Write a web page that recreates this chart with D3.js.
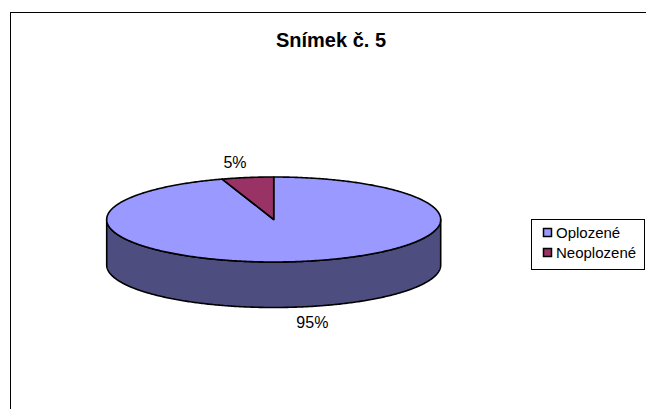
<!DOCTYPE html>
<html><head><meta charset="utf-8">
<script src="https://cdn.jsdelivr.net/npm/d3@7"></script>
<style>body{margin:0;background:#fff}svg{display:block;font-family:"Liberation Sans",Arial,sans-serif}</style>
</head><body>
<svg id="c" width="646" height="409"></svg>
<script>
const title = "Snímek č. 5";
const categories = ["Oplozené", "Neoplozené"];
const values = [95, 5];
const labels = ["95%", "5%"];
const topColors = ["#9999FF", "#993366"];
const sideColors = ["#4D4D80", "#4D1A33"];

const svg = d3.select("#c");
svg.append("rect").attr("x",10.5).attr("y",12.5).attr("width",700).attr("height",500)
  .attr("fill","#fff").attr("stroke","#000").attr("stroke-width",1);
svg.append("text").attr("x",331).attr("y",47).attr("text-anchor","middle")
  .attr("font-weight","bold").attr("font-size",20).text(title);

const cx = 273.7, cy = 219.5, rx = 167, ry = 42.5, depth = 45.5;
const pie = d3.pie().sort(null).value(d=>d)(values);
const pt = (a, dy=0) => [cx + rx*Math.sin(a), cy - ry*Math.cos(a) + dy];
const arcPts = (a0,a1,dy=0) => {
  const n = Math.max(2, Math.ceil((a1-a0)/0.01));
  return d3.range(n+1).map(i => pt(a0 + (a1-a0)*i/n, dy));
};
const line = d3.line();

// sides (front half: angles between PI/2 and 3PI/2)
pie.forEach((p,i) => {
  const a0 = Math.max(p.startAngle, Math.PI/2), a1 = Math.min(p.endAngle, 3*Math.PI/2);
  if (a1 <= a0) return;
  const upper = arcPts(a0,a1);
  const lower = arcPts(a0,a1,depth).reverse();
  svg.append("path").attr("d", line(upper.concat(lower)) + "Z")
    .attr("fill", sideColors[i]).attr("stroke","#000").attr("stroke-width",1.6).attr("stroke-linejoin","round");
});
// tops
pie.forEach((p,i) => {
  const pts = [[cx,cy]].concat(arcPts(p.startAngle,p.endAngle));
  svg.append("path").attr("d", line(pts) + "Z")
    .attr("fill", topColors[i]).attr("stroke","#000").attr("stroke-width",1.6).attr("stroke-linejoin","round");
});
// labels
pie.forEach((p,i) => {
  const mid = (p.startAngle+p.endAngle)/2;
  const front = Math.cos(mid) < 0;
  const x = cx + Math.sin(mid)*rx*1.48;
  const y = cy - Math.cos(mid)*(ry+15.5) + (front ? depth : 0) + 5.7;
  svg.append("text").attr("x",x).attr("y",y).attr("text-anchor","middle")
    .attr("font-size",16).attr("fill","#000").text(labels[i]);
});
// legend
const lg = svg.append("g");
lg.append("rect").attr("x",531.5).attr("y",219.5).attr("width",113).attr("height",50)
  .attr("fill","#fff").attr("stroke","#000").attr("stroke-width",1);
categories.forEach((c,i) => {
  const y = 232.5 + i*20;
  lg.append("rect").attr("x",543.5).attr("y",y-4).attr("width",8).attr("height",8)
    .attr("fill",topColors[i]).attr("stroke","#000").attr("stroke-width",1.5);
  lg.append("text").attr("x",556).attr("y",y+5.5).attr("font-size",15).text(c);
});
</script>
</body></html>
